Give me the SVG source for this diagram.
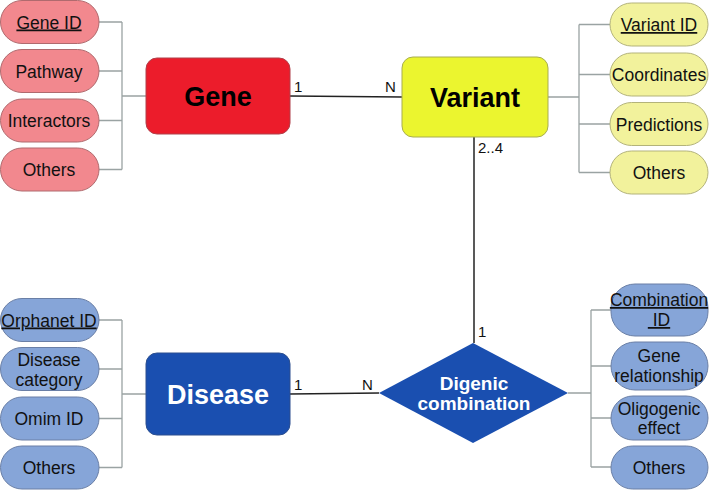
<svg xmlns="http://www.w3.org/2000/svg" width="709" height="490" viewBox="0 0 709 490">
<style>
text{font-family:"Liberation Sans",Arial,sans-serif;text-anchor:middle;}
.attr{font-size:17.5px;fill:#111;}
.ent{font-size:27px;font-weight:bold;}
.card{font-size:15px;fill:#111;text-anchor:start;}
.tree{stroke:#9aa3a3;stroke-width:1.3;fill:none;}
.rel{stroke:#222;stroke-width:1.5;fill:none;}
.pg{fill:#f2888e;stroke:#b06a6e;stroke-width:1;}
.py{fill:#f2f29c;stroke:#b3b37a;stroke-width:1;}
.pb{fill:#86a5d8;stroke:#6a7fa6;stroke-width:1;}
.u{text-decoration:underline;}
</style>
<rect width="709" height="490" fill="#fff"/>
<g id="connectors">
<path class="tree" d="M99 22H122M99 71H122M99 120.5H122M99 169.5H122M122 22V169.5M122 96H146"/>
<path class="tree" d="M548 97H579M579 24.5V172.5M579 24.5H610M579 74.5H610M579 124H610M579 172.5H610"/>
<path class="tree" d="M99 320H122M99 369H122M99 418.5H122M99 467.5H122M122 320V467.5M122 394H146"/>
<path class="tree" d="M568 393H591M591 310V467M591 310H611M591 366H611M591 418H611M591 467H611"/>
<path class="rel" d="M290 96L402 97"/>
<path class="rel" d="M474 137V343"/>
<path class="rel" d="M290 394L379 393"/>
<text class="card" x="294" y="92">1</text>
<text class="card" x="385" y="92">N</text>
<text class="card" x="478" y="153">2..4</text>
<text class="card" x="478" y="337">1</text>
<text class="card" x="294" y="390">1</text>
<text class="card" x="362" y="390">N</text>
</g>
<g id="gene">
<rect x="146" y="58" width="144" height="76" rx="11" fill="#ec1c2b" stroke="#b0404a" stroke-width="1"/>
<text class="ent" x="218" y="106" fill="#000">Gene</text>
</g>
<g id="variant">
<rect x="402" y="57" width="146" height="80" rx="11" fill="#ebf52f" stroke="#a8ad50" stroke-width="1"/>
<text class="ent" x="475" y="107" fill="#000">Variant</text>
</g>
<g id="disease">
<rect x="146" y="353" width="144" height="82" rx="11" fill="#1a4fb0" stroke="#2c4f8f" stroke-width="1"/>
<text class="ent" x="218" y="404" fill="#fff">Disease</text>
</g>
<g id="digenic-combination">
<polygon points="473,343 568,393 473,443 379,393" fill="#1a4fb0"/>
<text x="474" y="390" font-size="19" font-weight="bold" fill="#fff">Digenic</text>
<text x="474" y="410" font-size="19" font-weight="bold" fill="#fff">combination</text>
</g>
<g id="gene-id"><rect class="pg" x="0.5" y="0.5" width="98.5" height="43" rx="21.5"/><text class="attr u" x="49" y="28.5">Gene ID</text></g>
<g id="pathway"><rect class="pg" x="0.5" y="49.5" width="98.5" height="43" rx="21.5"/><text class="attr" x="49" y="77.5">Pathway</text></g>
<g id="interactors"><rect class="pg" x="0.5" y="99" width="98.5" height="43" rx="21.5"/><text class="attr" x="49" y="127">Interactors</text></g>
<g id="gene-others"><rect class="pg" x="0.5" y="148" width="98.5" height="43" rx="21.5"/><text class="attr" x="49" y="176">Others</text></g>
<g id="variant-id"><rect class="py" x="610" y="3" width="98" height="43" rx="21.5"/><text class="attr u" x="659" y="31">Variant ID</text></g>
<g id="coordinates"><rect class="py" x="610" y="53" width="98" height="43" rx="21.5"/><text class="attr" x="659" y="81">Coordinates</text></g>
<g id="predictions"><rect class="py" x="610" y="102.5" width="98" height="43" rx="21.5"/><text class="attr" x="659" y="130.5">Predictions</text></g>
<g id="variant-others"><rect class="py" x="610" y="151" width="98" height="43" rx="21.5"/><text class="attr" x="659" y="179">Others</text></g>
<g id="orphanet-id"><rect class="pb" x="0.5" y="298.5" width="98.5" height="43" rx="21.5"/><text class="attr u" x="49" y="326.5">Orphanet ID</text></g>
<g id="disease-category"><rect class="pb" x="0.5" y="347.5" width="98.5" height="43" rx="21.5"/><text class="attr" x="49" y="366">Disease</text><text class="attr" x="49" y="385.5">category</text></g>
<g id="omim-id"><rect class="pb" x="0.5" y="397" width="98.5" height="43" rx="21.5"/><text class="attr" x="49" y="425">Omim ID</text></g>
<g id="disease-others"><rect class="pb" x="0.5" y="446" width="98.5" height="43" rx="21.5"/><text class="attr" x="49" y="474">Others</text></g>
<g id="combination-id"><rect class="pb" x="611" y="284" width="97" height="52" rx="24"/><text class="attr u" x="659" y="306">Combination</text><text class="attr u" x="659" y="326">&#160;ID</text></g>
<g id="gene-relationship"><rect class="pb" x="611" y="342" width="97" height="48" rx="24"/><text class="attr" x="659" y="362">Gene</text><text class="attr" x="659" y="381.5">relationship</text></g>
<g id="oligogenic-effect"><rect class="pb" x="611" y="396" width="97" height="44" rx="22"/><text class="attr" x="659" y="414.5">Oligogenic</text><text class="attr" x="659" y="433.5">effect</text></g>
<g id="digenic-others"><rect class="pb" x="611" y="446" width="97" height="43" rx="21.5"/><text class="attr" x="659" y="474">Others</text></g>
</svg>
